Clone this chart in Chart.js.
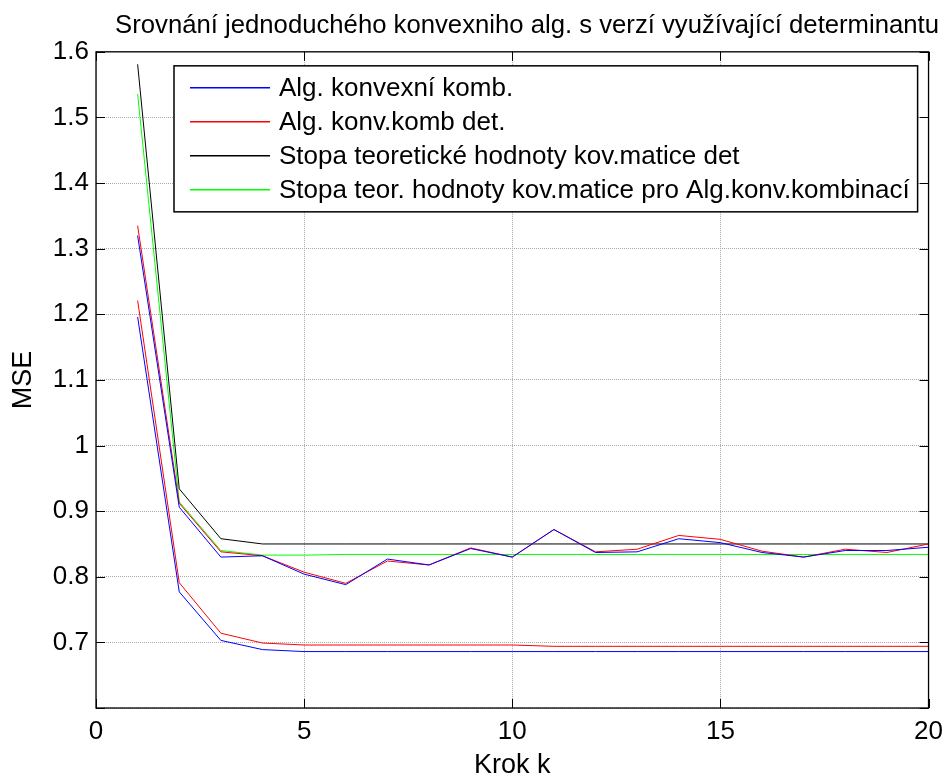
<!DOCTYPE html>
<html>
<head>
<meta charset="utf-8">
<title>MSE</title>
<script src="https://cdn.jsdelivr.net/npm/chart.js@4.4.0/dist/chart.umd.min.js"></script>
<style>
html, body { margin: 0; padding: 0; background: #fff; }
#obal { width: 951px; height: 776px; }
</style>
</head>
<body>
<div id="obal"><canvas id="mseGraf"></canvas></div>
<script>
// kroky k
const krok = [1, 2, 3, 4, 5, 6, 7, 8, 9, 10, 11, 12, 13, 14, 15, 16, 17, 18, 19, 20];

// MSE
const algKonv = [1.320, 0.906, 0.830, 0.832, 0.804, 0.788, 0.827, 0.818, 0.843, 0.830,
                 0.872, 0.837, 0.838, 0.858, 0.852, 0.837, 0.830, 0.840, 0.840, 0.845];
const algKonvDet = [1.335, 0.912, 0.838, 0.832, 0.807, 0.790, 0.824, 0.818, 0.844, 0.830,
                    0.872, 0.838, 0.842, 0.863, 0.857, 0.839, 0.830, 0.842, 0.837, 0.850];
const algKonvDolni = [1.196, 0.777, 0.703, 0.689, 0.686, 0.686, 0.686, 0.686, 0.686, 0.686,
                      0.686, 0.686, 0.686, 0.686, 0.686, 0.686, 0.686, 0.686, 0.686, 0.686];
const algKonvDetDolni = [1.221, 0.791, 0.714, 0.699, 0.696, 0.696, 0.696, 0.696, 0.696, 0.696,
                         0.694, 0.694, 0.694, 0.694, 0.694, 0.694, 0.694, 0.694, 0.694, 0.694];
const stopaDet = [1.581, 0.934, 0.858, 0.850, 0.850, 0.850, 0.850, 0.850, 0.850, 0.850,
                  0.850, 0.850, 0.850, 0.850, 0.850, 0.850, 0.850, 0.850, 0.850, 0.850];
const stopaKonv = [1.536, 0.914, 0.840, 0.833, 0.833, 0.834, 0.834, 0.834, 0.834, 0.834,
                   0.834, 0.834, 0.834, 0.834, 0.834, 0.834, 0.834, 0.834, 0.834, 0.834];

const xTicks = [0, 5, 10, 15, 20];
const yTicks = [0.6, 0.7, 0.8, 0.9, 1, 1.1, 1.2, 1.3, 1.4, 1.5, 1.6];

const FONT = "'Liberation Sans', Arial, Helvetica, sans-serif";

// dvojice [x, y] pro lineární osu x
function body(hodnoty) {
    return krok.map((k, i) => ({ x: k, y: hodnoty[i] }));
}

function rada(label, hodnoty, barva, legenda) {
    return {
        label: label,
        data: body(hodnoty),
        borderColor: barva,
        backgroundColor: barva,
        borderWidth: 1,
        pointRadius: 0,
        tension: 0,
        legenda: legenda
    };
}

// rámeček os, ticky dovnitř a legenda v rámečku (styl MATLABu)
const matlabStyl = {
    id: 'matlabStyl',
    afterDatasetsDraw(chart) {
        const ctx = chart.ctx;
        const a = chart.chartArea;
        const sx = chart.scales.x;
        const sy = chart.scales.y;
        const tl = 9;

        ctx.save();
        ctx.strokeStyle = '#000';
        ctx.lineWidth = 1;
        ctx.beginPath();
        xTicks.forEach(v => {
            const px = Math.round(sx.getPixelForValue(v)) + 0.5;
            ctx.moveTo(px, a.bottom); ctx.lineTo(px, a.bottom - tl);
            ctx.moveTo(px, a.top); ctx.lineTo(px, a.top + tl);
        });
        yTicks.forEach(v => {
            const py = Math.round(sy.getPixelForValue(v)) + 0.5;
            ctx.moveTo(a.left, py); ctx.lineTo(a.left + tl, py);
            ctx.moveTo(a.right, py); ctx.lineTo(a.right - tl, py);
        });
        ctx.stroke();

        ctx.lineWidth = 1.3;
        ctx.strokeRect(a.left, a.top, a.right - a.left, a.bottom - a.top);

        // legenda
        const polozky = chart.data.datasets.filter(d => d.legenda);
        ctx.font = '26px ' + FONT;
        const lx = a.left + 78;
        const ly = a.top + 14;
        const textX = lx + 105;
        const krokY = 34;
        let maxW = 0;
        polozky.forEach(d => { maxW = Math.max(maxW, ctx.measureText(d.label).width); });
        const w = textX - lx + maxW + 8;
        const h = 146;
        ctx.fillStyle = '#fff';
        ctx.fillRect(lx, ly, w, h);
        ctx.lineWidth = 1.5;
        ctx.strokeStyle = '#000';
        ctx.strokeRect(lx, ly, w, h);

        ctx.textBaseline = 'middle';
        ctx.textAlign = 'left';
        polozky.forEach((d, i) => {
            const y = ly + 22 + i * krokY;
            ctx.strokeStyle = d.borderColor;
            ctx.lineWidth = 1.5;
            ctx.beginPath();
            ctx.moveTo(lx + 16, y);
            ctx.lineTo(lx + 96, y);
            ctx.stroke();
            ctx.fillStyle = '#000';
            ctx.fillText(d.label, textX, y + 1);
        });
        ctx.restore();
    }
};

const ctx = document.getElementById('mseGraf').getContext('2d');
new Chart(ctx, {
    type: 'line',
    data: {
        datasets: [
            rada('Alg. konvexní komb.', algKonv, '#0000ff', true),
            rada('Alg. konv.komb det.', algKonvDet, '#ff0000', true),
            rada('Stopa teoretické hodnoty kov.matice det', stopaDet, '#000000', true),
            rada('Stopa teor. hodnoty kov.matice pro Alg.konv.kombinací', stopaKonv, '#00ff00', true),
            rada('Alg. konvexní komb. (2)', algKonvDolni, '#0000ff', false),
            rada('Alg. konv.komb det. (2)', algKonvDetDolni, '#ff0000', false)
        ]
    },
    options: {
        responsive: true,
        maintainAspectRatio: false,
        animation: false,
        layout: { padding: { left: 0, top: 0, right: 12, bottom: 0 } },
        plugins: {
            legend: { display: false },
            tooltip: { enabled: false },
            title: {
                display: true,
                text: 'Srovnání jednoduchého konvexniho alg. s verzí využívající determinantu',
                align: 'end',
                color: '#000',
                font: { family: FONT, size: 25.7, weight: 'normal', lineHeight: 1.2 },
                padding: { top: 10, bottom: 11 }
            }
        },
        scales: {
            x: {
                type: 'linear',
                min: 0,
                max: 20,
                afterBuildTicks: s => { s.ticks = xTicks.map(v => ({ value: v })); },
                afterFit: s => { s.height = 68; },
                grid: { color: '#a8a8a8', lineWidth: 1, drawTicks: false },
                border: { display: false, dash: [1, 1] },
                ticks: {
                    color: '#000',
                    padding: 8,
                    maxRotation: 0,
                    font: { family: FONT, size: 26 }
                },
                title: {
                    display: true,
                    text: 'Krok k',
                    color: '#000',
                    font: { family: FONT, size: 27, lineHeight: 0.8 },
                    padding: { top: 0, bottom: 0 }
                }
            },
            y: {
                min: 0.6,
                max: 1.6,
                afterBuildTicks: s => { s.ticks = yTicks.map(v => ({ value: v })); },
                afterFit: s => { s.width = 96; },
                grid: { color: '#a8a8a8', lineWidth: 1, drawTicks: false },
                border: { display: false, dash: [1, 1] },
                ticks: {
                    color: '#000',
                    padding: 7,
                    font: { family: FONT, size: 26 },
                    callback: v => (Math.abs(v - 0.6) < 1e-9 ? '' : (Math.abs(v - 1) < 1e-9 ? '1' : v.toFixed(1)))
                },
                title: {
                    display: true,
                    text: 'MSE',
                    color: '#000',
                    font: { family: FONT, size: 27 },
                    padding: { top: 7, bottom: 0 }
                }
            },
            // prázdná pravá osa jen pro místo vpravo od grafu
            y2: {
                position: 'right',
                min: 0.6,
                max: 1.6,
                afterFit: s => { s.width = 10; },
                grid: { display: false },
                border: { display: false },
                ticks: { display: false }
            }
        }
    },
    plugins: [matlabStyl]
});
</script>
</body>
</html>
